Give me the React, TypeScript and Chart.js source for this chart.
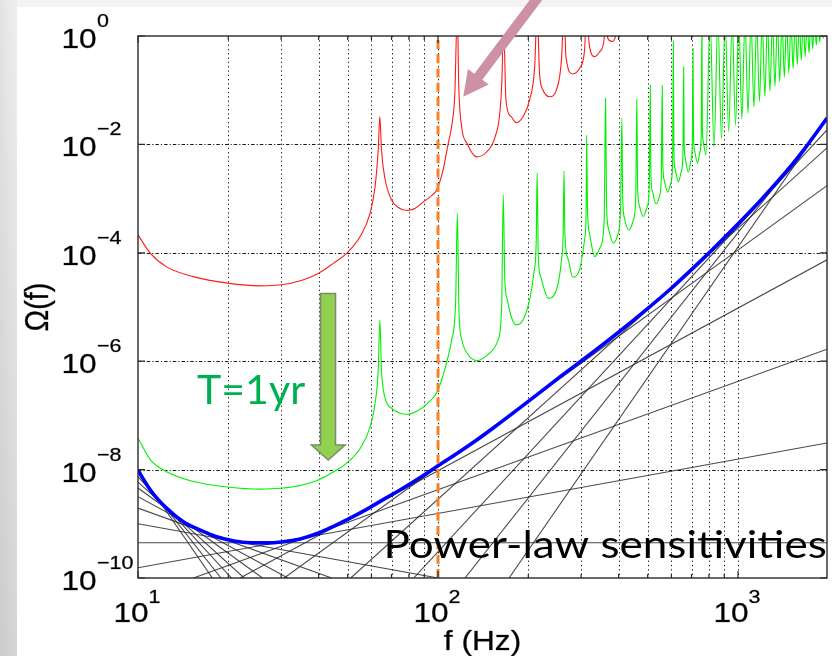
import React, { useEffect, useRef } from "react";
import { Chart, registerables } from "chart.js";

Chart.register(...registerables);

const W = 832;
const H = 656;

// ---- axes ----
const freqMin = 10;
const freqMax = 1980;
const omegaMin = 1e-10;
const omegaMax = 1;
const xTickExponents = [1, 2, 3];
const yTickExponents = [0, -2, -4, -6, -8, -10];
const yGridExponents = [-2, -4, -6, -8];
const xGridFreqs = [20, 30, 40, 50, 60, 70, 80, 90, 100, 200, 300, 400, 500, 600, 700, 800, 900, 1000];
const xMinorTicks = [20, 30, 40, 50, 60, 70, 80, 90, 200, 300, 400, 500, 600, 700, 800, 900];
const xAxisTitle = "f (Hz)";
const yAxisTitle = "Ω(f)";
const markerFreq = 100;
const observationLabel = "T=1yr";
const powerLawLabel = "Power-law sensitivities";

// ---- curves: [frequency (Hz), log10 Ω] ----
const redCurve: [number, number][] = [
  [10, -3.67], [11, -4.01], [12.46, -4.26], [15.3, -4.44], [19.9, -4.56], [25.5, -4.61], [30, -4.59],
  [35, -4.51], [39.9, -4.38], [44.9, -4.19], [49.6, -4.01], [55, -3.7], [59.4, -3.27], [61.7, -2.78],
  [63.2, -2.1], [64, -1.49], [64.8, -2.1], [66.5, -2.62], [70.1, -3.03], [74, -3.17], [78.6, -3.22],
  [84, -3.18], [89.3, -3.06], [95, -2.95], [99, -2.84], [104, -2.47], [108, -2.0], [111, -1.67],
  [113.8, -1.06], [116, 0.5], [117.2, -0.87], [119.9, -1.67], [124.9, -1.98], [134.6, -2.23],
  [145.3, -2.14], [155, -1.86], [161, -1.37], [163.8, -0.57], [165, 0.5], [168.5, -1.18], [175.5, -1.49],
  [182, -1.6], [192, -1.49], [202, -1.18], [210, -0.57], [214, 0.5], [218, -0.69], [224, -1.0],
  [236, -1.12], [248, -1.0], [258, -0.44], [263, 0.5], [267, -0.38], [281, -0.7], [296, -0.6],
  [308, -0.26], [313, 0.5], [319, -0.14], [333, -0.38], [346, -0.29], [358, -0.05], [362, 0.5],
  [368, -0.04], [380, -0.1], [390, -0.02], [396, 0.3],
];

const greenCurve: [number, number][] = [
  [10, -7.42], [11, -7.82], [12.46, -8.04], [15.3, -8.22], [19.9, -8.32], [25.5, -8.36], [30, -8.345],
  [35, -8.29], [39.9, -8.19], [44.9, -8.04], [49.6, -7.88], [55, -7.61], [59.4, -7.21], [61.7, -6.78],
  [63.2, -6.16], [64, -5.24], [64.8, -6.16], [66.5, -6.66], [70.1, -6.87], [74, -6.95], [78.6, -6.98],
  [87, -6.89], [93, -6.76], [99.5, -6.56], [106.7, -6.04], [111, -5.61], [114.5, -4.9], [116, -3.27],
  [117.5, -5.1], [120, -5.6], [124.9, -5.85], [134.6, -5.99], [148.6, -5.85], [158.5, -5.61], [163, -5.0],
  [165, -2.93], [167, -4.5], [170, -4.85], [175.5, -5.18], [182, -5.33], [192, -5.24], [202, -4.87],
  [209, -4.35], [212.5, -3.8], [214, -2.53], [216, -4.1], [220, -4.44], [233, -4.84], [248, -4.69],
  [258, -4.13], [261.5, -3.6], [263, -2.49], [265, -3.7], [272, -4.13], [281, -4.45], [296, -4.32],
  [308, -3.76], [311.5, -3.3], [313, -1.83], [315, -3.2], [320, -3.64], [333, -4.07], [348, -3.89],
  [358, -3.4], [362, -1.15], [364.5, -3.1], [370, -3.55], [384, -3.82], [398, -3.65], [406, -3.2],
  [410, -1.52], [412.5, -2.95], [418, -3.35], [433, -3.58], [448, -3.4], [456, -3.0], [460, -1.17],
  [462.5, -2.75], [468, -3.1], [483, -3.33], [498, -3.15], [506, -2.8], [510, -0.9], [512.5, -2.55],
  [518, -2.85], [533, -3.1], [548, -2.95], [555, -2.6], [559, -0.92], [561.5, -2.35], [567, -2.65],
  [583, -2.88], [597, -2.72], [605, -2.4], [609, -0.1], [611.5, -2.15], [617, -2.45], [633, -2.69],
  [647, -2.5], [655, -2.2], [659, -0.57], [661.5, -1.95], [667, -2.25], [683, -2.51], [697, -2.3],
  [704, -2.0], [708, -0.23], [710.5, -1.8], [716, -2.1], [733, -2.34], [746, -2.15], [754, -1.85],
  [758, 0.3], [760.5, -1.65], [766, -1.95], [782, -2.19], [807, 0.3], [832, -2.04], [857, 0.3],
  [881, -1.9], [906, 0.3], [931, -1.77], [956, 0.3], [981, -1.65], [1006, 0.3], [1030, -1.53],
  [1055, 0.3], [1080, -1.42], [1105, 0.3], [1130, -1.31], [1154, 0.3], [1179, -1.21], [1204, 0.3],
  [1229, -1.11], [1254, 0.3], [1278, -1.02], [1303, 0.3], [1328, -0.93], [1353, 0.3], [1377, -0.84],
  [1402, 0.3], [1427, -0.76], [1452, 0.3], [1477, -0.68], [1502, 0.3], [1526, -0.6], [1551, 0.3],
  [1576, -0.52], [1601, 0.3], [1625, -0.45], [1650, 0.3], [1675, -0.38], [1700, 0.3], [1725, -0.31],
  [1750, 0.3], [1774, -0.24], [1799, 0.3], [1824, -0.17], [1849, 0.3], [1873, -0.11], [1898, 0.3],
  [1923, -0.05], [1948, 0.3], [1975, 0.02], [1990, 0.3],
];

const blueCurve: [number, number][] = [
  [10, -8.013], [11, -8.38], [12.5, -8.72], [14.2, -8.967], [16.2, -9.12], [18.4, -9.244],
  [20.9, -9.317], [23.8, -9.349], [27, -9.352], [30, -9.335], [34.7, -9.28], [40, -9.17],
  [44.7, -9.05], [50, -8.92], [58, -8.73], [64, -8.59], [74.7, -8.376], [87, -8.15], [100, -7.93],
  [117, -7.685], [135, -7.45], [152, -7.242], [200, -6.742], [255, -6.29], [329, -5.83], [399, -5.47],
  [496, -5.044], [593, -4.677], [710, -4.278], [796, -4.015], [893, -3.741], [1028, -3.399],
  [1184, -3.043], [1346, -2.703], [1528, -2.345], [1671, -2.073], [1980, -1.513],
];

// power-law lines (slopes -8 … 8): start / end points [f, log10 Ω]
const powerLawSlopes = [-8, -7, -6, -5, -4, -3, -2, -1, 0, 1, 2, 3, 4, 5, 6, 7, 8];
const powerLawStart: [number, number][] = [
  [10, -8.01], [10, -8.06], [10, -8.13], [10, -8.23], [10, -8.34], [10, -8.5], [10, -8.71], [10, -9.0],
  [10, -9.35], [10, -9.81], [15.3, -10], [21.9, -10], [30.7, -10], [51.2, -10], [83, -10], [123, -10], [172.5, -10],
];
const powerLawEnd: [number, number][] = [
  [17.7, -10], [18.9, -10], [20.5, -10], [22.6, -10], [26.0, -10], [31.6, -10], [44.2, -10], [100, -10],
  [1980, -9.35], [1980, -7.51], [1980, -5.78], [1980, -4.13], [1980, -2.76], [1980, -2.063], [1980, -1.734],
  [1980, -1.553], [1980, -1.52],
];

const toPts = (c: [number, number][]) => c.map(([f, l]) => ({ x: f, y: Math.pow(10, l) }));

const MFONT = '"Liberation Sans", Arial, Helvetica, sans-serif';
const STRETCH = 1.13;

function sText(ctx: CanvasRenderingContext2D, text: string, x: number, y: number, size: number, align: CanvasTextAlign = "left") {
  ctx.save();
  ctx.font = `${size}px ${MFONT}`;
  ctx.fillStyle = "#000";
  ctx.strokeStyle = "rgba(0,0,0,0.55)";
  ctx.lineWidth = 0.5;
  ctx.textAlign = align;
  ctx.textBaseline = "alphabetic";
  ctx.translate(x, y);
  ctx.scale(STRETCH, 1);
  ctx.fillText(text, 0, 0);
  ctx.strokeText(text, 0, 0);
  ctx.restore();
}

function fittedText(ctx: CanvasRenderingContext2D, text: string, inkLeft: number, baseline: number, inkWidth: number, size: number, color: string) {
  ctx.save();
  ctx.font = `${size}px Lato, "Noto Sans", sans-serif`;
  ctx.fillStyle = color;
  ctx.textAlign = "left";
  ctx.textBaseline = "alphabetic";
  const m = ctx.measureText(text);
  const ink = m.actualBoundingBoxRight + m.actualBoundingBoxLeft;
  const sx = inkWidth / ink;
  ctx.translate(inkLeft, baseline);
  ctx.scale(sx, 1);
  ctx.fillText(text, m.actualBoundingBoxLeft, 0);
  ctx.restore();
}

const backgroundPlugin = {
  id: "bg",
  beforeDraw(chart: any) {
    const ctx = chart.ctx as CanvasRenderingContext2D;
    ctx.save();
    ctx.fillStyle = "#ffffff";
    ctx.fillRect(0, 0, W, H);
    ctx.fillStyle = "#f3f3f3";
    ctx.fillRect(0, 0, W, 7);
    const g = ctx.createLinearGradient(0, 0, 0, H);
    g.addColorStop(0, "#efefef");
    g.addColorStop(1, "#d6d6d6");
    ctx.fillStyle = g;
    ctx.fillRect(0, 0, 17, H);
    const g2 = ctx.createLinearGradient(0, 0, 17, 0);
    g2.addColorStop(0, "rgba(0,0,0,0.05)");
    g2.addColorStop(1, "rgba(0,0,0,0)");
    ctx.fillStyle = g2;
    ctx.fillRect(0, 0, 17, H);
    ctx.restore();
  },
  beforeDatasetsDraw(chart: any) {
    const ctx = chart.ctx as CanvasRenderingContext2D;
    const xa = chart.scales.x;
    const ya = chart.scales.y;
    const { left, right, top, bottom } = chart.chartArea;
    ctx.save();
    ctx.strokeStyle = "rgba(0,0,0,0.9)";
    ctx.lineWidth = 1;
    ctx.setLineDash([1.3, 3]);
    for (const f of xGridFreqs) {
      const x = Math.round(xa.getPixelForValue(f)) + 0.5;
      ctx.beginPath();
      ctx.moveTo(x, top);
      ctx.lineTo(x, bottom);
      ctx.stroke();
    }
    ctx.setLineDash([3.5, 2, 1.2, 2]);
    for (const e of yGridExponents) {
      const y = Math.round(ya.getPixelForValue(Math.pow(10, e))) + 0.5;
      ctx.beginPath();
      ctx.moveTo(left, y);
      ctx.lineTo(right, y);
      ctx.stroke();
    }
    ctx.restore();
  },
  afterDatasetsDraw(chart: any) {
    const ctx = chart.ctx as CanvasRenderingContext2D;
    const xa = chart.scales.x;
    const ya = chart.scales.y;
    const { left, right, top, bottom } = chart.chartArea;
    ctx.save();
    ctx.strokeStyle = "#2a2a2a";
    ctx.lineWidth = 1.4;
    ctx.strokeRect(left, top, right - left, bottom - top);
    ctx.lineWidth = 1.2;
    ctx.beginPath();
    for (const e of yTickExponents) {
      const y = ya.getPixelForValue(Math.pow(10, e));
      ctx.moveTo(left, y); ctx.lineTo(left + 7, y);
      ctx.moveTo(right, y); ctx.lineTo(right - 7, y);
    }
    for (const e of xTickExponents) {
      const x = xa.getPixelForValue(Math.pow(10, e));
      ctx.moveTo(x, bottom); ctx.lineTo(x, bottom - 7);
      ctx.moveTo(x, top); ctx.lineTo(x, top + 7);
    }
    for (const f of xMinorTicks) {
      const x = xa.getPixelForValue(f);
      ctx.moveTo(x, bottom); ctx.lineTo(x, bottom - 4);
      ctx.moveTo(x, top); ctx.lineTo(x, top + 4);
    }
    ctx.stroke();
    ctx.restore();

    // tick labels
    for (const e of yTickExponents) {
      const y = ya.getPixelForValue(Math.pow(10, e));
      sText(ctx, "10", 61.5, y + 12, 28);
      sText(ctx, e === 0 ? "0" : "\u2212" + Math.abs(e), 97, y - 9, 19);
    }
    for (const e of xTickExponents) {
      const x = xa.getPixelForValue(Math.pow(10, e));
      sText(ctx, "10", x - 24.5, 622, 28);
      sText(ctx, String(e), x + 10.5, 603, 19);
    }
    sText(ctx, xAxisTitle, (left + right) / 2, 650, 28, "center");
    ctx.save();
    ctx.font = `29px ${MFONT}`;
    ctx.fillStyle = "#000";
    ctx.strokeStyle = "rgba(0,0,0,0.55)";
    ctx.lineWidth = 0.5;
    ctx.textAlign = "center";
    ctx.translate(48, (top + bottom) / 2);
    ctx.rotate(-Math.PI / 2);
    ctx.scale(1, STRETCH);
    ctx.fillText(yAxisTitle, 0, 0);
    ctx.strokeText(yAxisTitle, 0, 0);
    ctx.restore();
  },
  afterDraw(chart: any) {
    const ctx = chart.ctx as CanvasRenderingContext2D;
    // green block arrow
    ctx.save();
    ctx.beginPath();
    ctx.moveTo(320.5, 293.5);
    ctx.lineTo(335.5, 293.5);
    ctx.lineTo(335.5, 445);
    ctx.lineTo(345, 445);
    ctx.lineTo(328.3, 460);
    ctx.lineTo(311.5, 445);
    ctx.lineTo(320.5, 445);
    ctx.closePath();
    ctx.fillStyle = "#92d050";
    ctx.fill();
    ctx.strokeStyle = "#7d8b6c";
    ctx.lineWidth = 1.6;
    ctx.stroke();
    ctx.restore();

    // pink arrow
    const tip = { x: 463.3, y: 96.7 };
    const tail = { x: 545, y: -12 };
    const dx = tip.x - tail.x, dy = tip.y - tail.y;
    const len = Math.hypot(dx, dy);
    const ux = dx / len, uy = dy / len;
    const px = -uy, py = ux;
    const sh = 5, hh = 13, hl = 25;
    const bx = tip.x - ux * hl, by = tip.y - uy * hl;
    ctx.save();
    ctx.beginPath();
    ctx.moveTo(tail.x + px * sh, tail.y + py * sh);
    ctx.lineTo(bx + px * sh, by + py * sh);
    ctx.lineTo(bx + px * hh, by + py * hh);
    ctx.lineTo(tip.x, tip.y);
    ctx.lineTo(bx - px * hh, by - py * hh);
    ctx.lineTo(bx - px * sh, by - py * sh);
    ctx.lineTo(tail.x - px * sh, tail.y - py * sh);
    ctx.closePath();
    ctx.fillStyle = "#cd90a6";
    ctx.fill();
    ctx.restore();

    fittedText(ctx, observationLabel, 197, 404, 108, 41.5, "#00b050");
    fittedText(ctx, powerLawLabel, 387, 558, 439, 38.5, "#000000");
  },
};

export default function App() {
  const ref = useRef<HTMLCanvasElement | null>(null);
  useEffect(() => {
    document.body.style.margin = "0";
    const canvas = ref.current;
    if (!canvas) return;
    const datasets: any[] = [];
    datasets.push({
      data: [{ x: markerFreq, y: omegaMin }, { x: markerFreq, y: omegaMax }],
      borderColor: "#f58229", borderWidth: 3, borderDash: [9, 5.3], order: 0,
    });
    datasets.push({
      data: toPts(blueCurve), borderColor: "#0000ff", borderWidth: 3.6,
      cubicInterpolationMode: "monotone", order: 1,
    });
    powerLawSlopes.forEach((_, i) => {
      datasets.push({
        data: toPts([powerLawStart[i], powerLawEnd[i]]),
        borderColor: "rgba(40,40,40,0.85)", borderWidth: 1.1, order: 2,
      });
    });
    datasets.push({
      data: toPts(greenCurve), borderColor: "#00f000", borderWidth: 1.1, order: 3,
      cubicInterpolationMode: "monotone",
    });
    datasets.push({
      data: toPts(redCurve), borderColor: "#ff1a1a", borderWidth: 1.1, order: 3,
      cubicInterpolationMode: "monotone",
    });
    datasets.forEach((d) => { d.showLine = true; d.pointRadius = 0; d.fill = false; });

    const chart = new Chart(canvas, {
      type: "scatter",
      data: { datasets },
      options: {
        animation: false,
        responsive: false,
        devicePixelRatio: 1,
        layout: { padding: { left: 138, top: 36, right: 5, bottom: 78 } },
        plugins: { legend: { display: false }, tooltip: { enabled: false } },
        scales: {
          x: { type: "logarithmic", min: freqMin, max: freqMax, display: false },
          y: { type: "logarithmic", min: omegaMin, max: omegaMax, display: false },
        },
      } as any,
      plugins: [backgroundPlugin as any],
    });
    return () => chart.destroy();
  }, []);
  return <canvas ref={ref} width={W} height={H} style={{ display: "block", width: W, height: H }} />;
}
